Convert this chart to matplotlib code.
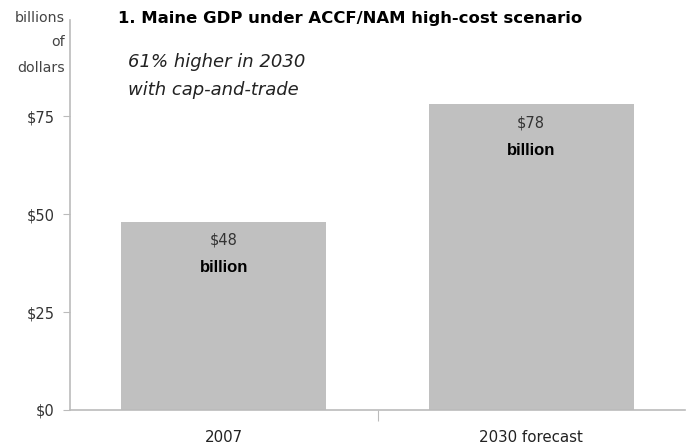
import matplotlib
matplotlib.use("Agg")
import matplotlib.pyplot as plt

categories = ["2007", "2030 forecast"]
values = [48, 78]
value_labels = ["$48\nbillion", "$78\nbillion"]
yticks = [0, 25, 50, 75]
ytick_labels = ["$0", "$25", "$50", "$75"]

plt.rcParams['font.family'] = ['DejaVu Sans']

fig = plt.figure(figsize=(6.86, 4.46), dpi=100)
ax = fig.add_axes([70/686, 1-410/446, 615/686, 390/446])

x = list(range(len(categories)))
ax.bar(x, values, width=0.666, color="#c0c0c0", edgecolor="none")
ax.set_xlim(-0.5, len(categories) - 0.5)
ax.set_ylim(0, 99.5)

ax.set_yticks(yticks)
ax.set_yticklabels(ytick_labels, fontsize=10.5, color="#333333")
ax.set_xticks([0.5])
ax.set_xticklabels([""])
ax.tick_params(axis='y', length=5, color="#bbbbbb", pad=6)
ax.tick_params(axis='x', length=8, color="#bbbbbb")
for i, c in enumerate(categories):
    ax.text(i, -0.07, c, transform=ax.get_xaxis_transform(), ha='center', va='center',
            fontsize=10.8, color="#222222")

for s in ['top', 'right']:
    ax.spines[s].set_visible(False)
for s in ['left', 'bottom']:
    ax.spines[s].set_color("#bbbbbb")
    ax.spines[s].set_linewidth(1.2)

for i, (v, lab) in enumerate(zip(values, value_labels)):
    top, bottom = lab.split("\n")
    ax.text(i, v - 4.7, top, ha='center', va='center', fontsize=10.5, color="#333333")
    ax.text(i, v - 11.7, bottom, ha='center', va='center', fontsize=12,
            family='Liberation Sans', fontweight='bold', color="#000000")

fig.text(118/686, 1-18/446, "1. Maine GDP under ACCF/NAM high-cost scenario",
         ha='left', va='center', fontsize=11.85, fontweight='bold', color="#000000")
fig.text(128/686, 1-62/446, "61% higher in 2030", ha='left', va='center',
         fontsize=13, style='italic', color="#222222")
fig.text(128/686, 1-90/446, "with cap-and-trade", ha='left', va='center',
         fontsize=13, style='italic', color="#222222")
for yy, t in [(18, "billions"), (42, "of"), (68, "dollars")]:
    fig.text(65/686, 1-yy/446, t, ha='right', va='center', fontsize=10.2, color="#444444")

fig.savefig("out.png", dpi=100)
